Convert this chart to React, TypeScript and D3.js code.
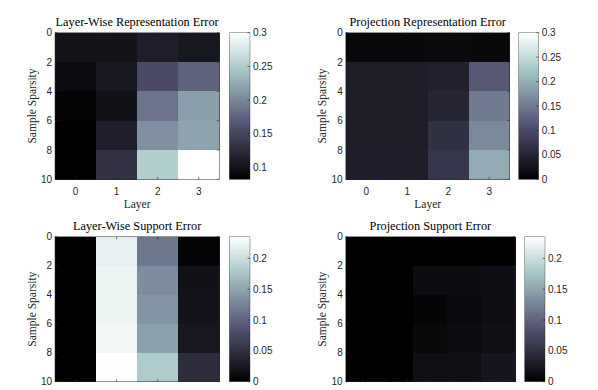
import { useEffect, useRef } from "react"
import * as d3 from "d3"

// rows = sparsity bins 0-2, 2-4, ... 8-10 ; columns = layers
const layers = [0, 1, 2, 3]
const supportCols = [0, 1, 2, 3, 4]
const rowStarts = [0, 2, 4, 6, 8]
const sparsityTicks = [0, 2, 4, 6, 8, 10]
const supportXTicks = [0, 0.667, 1.333, 2, 2.667, 3.333, 4]

const layerWiseRepErr = [
  [0.101, 0.102, 0.113, 0.105],
  [0.094, 0.106, 0.155, 0.174],
  [0.087, 0.1, 0.187, 0.217],
  [0.083, 0.113, 0.207, 0.22],
  [0.083, 0.131, 0.252, 0.3],
]
const projectionRepErr = [
  [0.011, 0.012, 0.013, 0.012],
  [0.04, 0.04, 0.045, 0.115],
  [0.04, 0.04, 0.05, 0.15],
  [0.04, 0.04, 0.066, 0.165],
  [0.041, 0.041, 0.072, 0.198],
]
const layerWiseSupErr = [
  [0, 0.219, 0.115, 0.005],
  [0, 0.223, 0.132, 0.019],
  [0, 0.222, 0.137, 0.021],
  [0, 0.226, 0.146, 0.024],
  [0, 0.234, 0.181, 0.047],
]
const projectionSupErr = [
  [0, 0, 0.001, 0.001, 0.001],
  [0, 0, 0.013, 0.013, 0.015],
  [0, 0, 0.005, 0.011, 0.015],
  [0, 0, 0.009, 0.012, 0.017],
  [0, 0, 0.016, 0.016, 0.023],
]

const repCbTicksA = [0.1, 0.15, 0.2, 0.25, 0.3]
const repCbTicksB = [0, 0.05, 0.1, 0.15, 0.2, 0.25, 0.3]
const supCbTicks = [0, 0.05, 0.1, 0.15, 0.2]

// MATLAB "bone" colormap
const bone = (t) => {
  t = Math.max(0, Math.min(1, t))
  const hr = Math.min(1, t / 0.375)
  const hg = Math.max(0, Math.min(1, (t - 0.375) / 0.375))
  const hb = Math.max(0, Math.min(1, (t - 0.75) / 0.25))
  return d3.rgb(((7 * t + hb) / 8) * 255, ((7 * t + hg) / 8) * 255, ((7 * t + hr) / 8) * 255).formatHex()
}

const serif = "'Liberation Serif', 'DejaVu Serif', serif"
const sans = "'Liberation Sans', Arial, sans-serif"
const axisCol = "#262626"

const panels = [
  { id: "a", title: "Layer-Wise Representation Error", data: layerWiseRepErr, cols: layers, xTicks: layers, xLabels: true,
    x0: 55, x1: 219.3, y0: 32.7, y1: 179.3, cb0: 229.3, cb1: 250, clim: [0.0827, 0.3], cbTicks: repCbTicksA, ylabX: 32 },
  { id: "b", title: "Projection Representation Error", data: projectionRepErr, cols: layers, xTicks: layers, xLabels: true,
    x0: 345.7, x1: 509.7, y0: 32.7, y1: 179.3, cb0: 518.7, cb1: 538.7, clim: [0, 0.3], cbTicks: repCbTicksB, ylabX: 321.5 },
  // bottom row: x tick labels and "Layer" fall below the picture edge
  { id: "c", title: "Layer-Wise Support Error", data: layerWiseSupErr, cols: layers, xTicks: layers, xLabels: false,
    x0: 55, x1: 219.3, y0: 236.7, y1: 381.7, cb0: 229.3, cb1: 250, clim: [0, 0.235], cbTicks: supCbTicks, ylabX: 32 },
  { id: "d", title: "Projection Support Error", data: projectionSupErr, cols: supportCols, xTicks: supportXTicks, xLabels: false,
    x0: 345.7, x1: 515, y0: 236.7, y1: 381.7, cb0: 524.7, cb1: 545, clim: [0, 0.235], cbTicks: supCbTicks, ylabX: 321.5 },
]

const App = () => {
  const svgRef = useRef()

  useEffect(() => {
    const svg = d3.select(svgRef.current)
    svg.selectAll("*").remove()
    const defs = svg.append("defs")

    panels.forEach((p) => {
      const n = p.cols.length
      const x = d3.scaleLinear().domain([-0.5, n - 0.5]).range([p.x0, p.x1])
      const y = d3.scaleLinear().domain([0, 10]).range([p.y0, p.y1])
      const c = d3.scaleLinear().domain(p.clim).range([0, 1]).clamp(true)
      const g = svg.append("g")

      p.data.forEach((row, i) => {
        row.forEach((v, j) => {
          g.append("rect")
            .attr("x", x(p.cols[j] - 0.5))
            .attr("y", y(rowStarts[i]))
            .attr("width", x(p.cols[j] + 0.5) - x(p.cols[j] - 0.5) + 0.6)
            .attr("height", y(rowStarts[i] + 2) - y(rowStarts[i]) + 0.6)
            .attr("shape-rendering", "crispEdges")
            .attr("fill", bone(c(v)))
        })
      })

      // ticks (inward, mirrored)
      p.xTicks.forEach((t) => {
        g.append("line").attr("x1", x(t)).attr("x2", x(t)).attr("y1", p.y1).attr("y2", p.y1 - 2.5)
          .attr("stroke", axisCol).attr("stroke-width", 0.6)
        g.append("line").attr("x1", x(t)).attr("x2", x(t)).attr("y1", p.y0).attr("y2", p.y0 + 2.5)
          .attr("stroke", axisCol).attr("stroke-width", 0.6)
        if (p.xLabels) {
          g.append("text").attr("x", x(t)).attr("y", p.y1 + 15.5).attr("text-anchor", "middle")
            .attr("font-family", sans).attr("font-size", 10).attr("fill", axisCol).text(t)
        }
      })
      sparsityTicks.forEach((t) => {
        g.append("line").attr("x1", p.x0).attr("x2", p.x0 + 2.5).attr("y1", y(t)).attr("y2", y(t))
          .attr("stroke", axisCol).attr("stroke-width", 0.6)
        g.append("line").attr("x1", p.x1).attr("x2", p.x1 - 2.5).attr("y1", y(t)).attr("y2", y(t))
          .attr("stroke", axisCol).attr("stroke-width", 0.6)
        g.append("text").attr("x", p.x0 - 3).attr("y", y(t) + 3.6).attr("text-anchor", "end")
          .attr("font-family", sans).attr("font-size", 10).attr("fill", axisCol).text(t)
      })

      g.append("rect").attr("x", p.x0).attr("y", p.y0).attr("width", p.x1 - p.x0).attr("height", p.y1 - p.y0)
        .attr("fill", "none").attr("stroke", axisCol).attr("stroke-width", 0.6).attr("stroke-opacity", 0.8)

      g.append("text").attr("x", (p.x0 + p.x1) / 2).attr("y", p.y0 - 6.5).attr("text-anchor", "middle")
        .attr("font-family", serif).attr("font-size", 12.3).attr("fill", "#000").text(p.title)

      g.append("text").attr("transform", `translate(${p.ylabX},${(p.y0 + p.y1) / 2}) rotate(-90)`)
        .attr("dy", "0.35em").attr("text-anchor", "middle")
        .attr("font-family", serif).attr("font-size", 11.5).attr("fill", "#262626").text("Sample Sparsity")

      if (p.xLabels) {
        g.append("text").attr("x", (p.x0 + p.x1) / 2).attr("y", p.y1 + 28.5).attr("text-anchor", "middle")
          .attr("font-family", serif).attr("font-size", 11.5).attr("fill", "#262626").text("Layer")
      }

      // colorbar
      const cy = d3.scaleLinear().domain(p.clim).range([p.y1, p.y0])
      const grad = defs.append("linearGradient").attr("id", "cb-" + p.id)
        .attr("x1", 0).attr("y1", 1).attr("x2", 0).attr("y2", 0)
      d3.range(0, 1.0001, 1 / 64).forEach((t) => {
        grad.append("stop").attr("offset", t).attr("stop-color", bone(t))
      })
      g.append("rect").attr("x", p.cb0).attr("y", p.y0).attr("width", p.cb1 - p.cb0).attr("height", p.y1 - p.y0)
        .attr("fill", `url(#cb-${p.id})`).attr("stroke", axisCol).attr("stroke-opacity", 0.6).attr("stroke-width", 0.6)
      p.cbTicks.forEach((t) => {
        g.append("line").attr("x1", p.cb1).attr("x2", p.cb1 - 2.5).attr("y1", cy(t)).attr("y2", cy(t))
          .attr("stroke", axisCol).attr("stroke-width", 0.6)
        g.append("text").attr("x", p.cb1 + 3).attr("y", cy(t) + 3.6)
          .attr("font-family", sans).attr("font-size", 10).attr("fill", axisCol).text(t)
      })
    })
  }, [])

  return (
    <svg ref={svgRef} width={598} height={390} style={{ position: "absolute", left: 0, top: 0, background: "#fff" }} />
  )
}

export default App
